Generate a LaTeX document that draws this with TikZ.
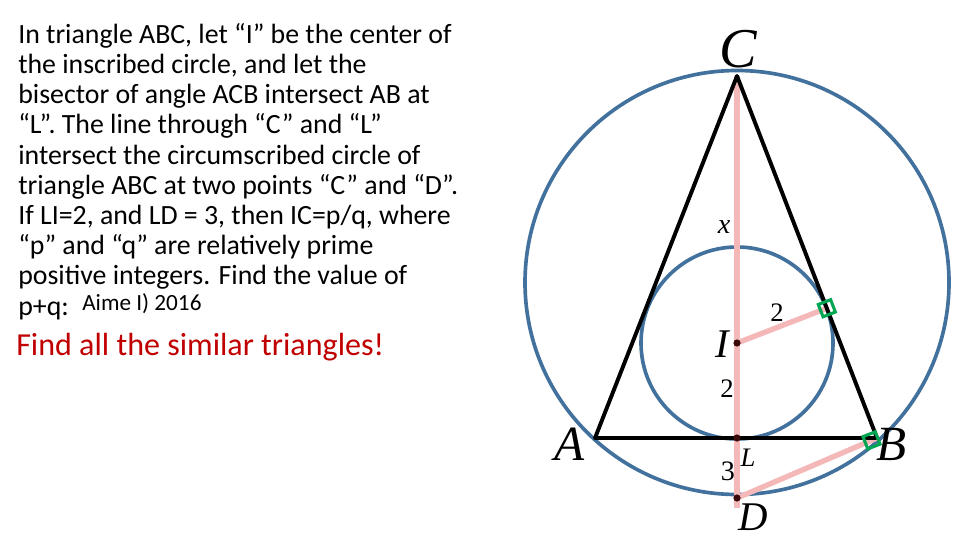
\documentclass[tikz,border=0pt]{standalone}
\usepackage{fontspec}
\setmainfont{Carlito}
\newfontfamily\geofont{Liberation Serif}
\usetikzlibrary{calc}
\definecolor{circblue}{HTML}{41719C}
\definecolor{segpink}{HTML}{F4B8B8}
\definecolor{markgreen}{HTML}{00A651}
\definecolor{hintred}{HTML}{C00000}
\definecolor{ptdark}{HTML}{3A0A0A}

\begin{document}
\begin{tikzpicture}[
	circ/.style={draw=circblue,line width=2.6pt},
	seg/.style={draw=segpink,line width=3.8pt},
	side/.style={draw=black,line width=2.8pt,line join=round},
	rmark/.style={draw=markgreen,line width=2.2pt,minimum size=0.33cm,inner sep=0pt,rotate=-68.8},
	pt/.style={circle,fill=ptdark,inner sep=0pt,minimum size=0.18cm},
	vlab/.style={font=\geofont\itshape\fontsize{#1}{#1}\selectfont,inner sep=0pt,anchor=base},
	nlab/.style={font=\geofont\fontsize{#1}{#1}\selectfont,inner sep=0pt,anchor=base}]
	\useasboundingbox (0,0) rectangle (24,13.5);
	
	\node[anchor=north west,inner sep=0pt,align=left,font=\fontsize{19.8}{21.5}\selectfont] (prob) at (0.45,12.93)
		{In triangle ABC, let “I” be the center of\\
		the inscribed circle, and let the\\
		bisector of angle ACB intersect AB at\\
		“L”.  The line through “C” and “L”\\
		intersect the circumscribed circle of\\
		triangle ABC at two points “C” and “D”.\\
		If LI=2, and LD = 3, then IC=p/q, where\\
		“p” and “q” are relatively prime\\
		positive integers.  Find the value of\\
		p+q:};
	\node[anchor=base west,inner sep=0pt,font=\fontsize{16.5}{16.5}\selectfont] (src) at (2.05,5.75) {Aime I) 2016};
	\node[anchor=base west,inner sep=0pt,text=hintred,font=\fontsize{22.8}{22.8}\selectfont] (hint) at (0.4,4.625) {Find all the similar triangles!};
	
	\coordinate (C) at (18.425,11.6);
	\coordinate (A) at (14.875,2.55);
	\coordinate (B) at (21.925,2.55);
	\coordinate (L) at (18.425,2.55);
	\coordinate (I) at (18.425,4.925);
	\coordinate (D) at (18.425,1.05);
	\coordinate (Dend) at (18.425,0.8);
	\coordinate (O) at (18.425,6.4375);
	\coordinate (T) at ($(C)!(I)!(B)$);
	
	\draw[circ] (O) circle (5.3);
	\draw[circ] (I) circle (2.4);
	
	\draw[seg] (C) -- (Dend);
	\draw[seg] (I) -- (T);
	\draw[seg] (D) -- (B);
	
	\draw[side] (A) -- (B) -- (C) -- cycle;
	
	\node[rmark] (rT) at (T) {};
	\node[rmark] (rB) at ($(B)!0.15cm!(D)$) {};
	
	\node[pt] (pI) at (I) {};
	\node[pt] (pL) at (L) {};
	\node[pt] (pD) at (D) {};
	
	\node[vlab=40] (labC) at (18.45,11.8) {C};
	\node[vlab=35] (labA) at (14.25,2.0) {A};
	\node[vlab=35] (labB) at (22.3,2.0) {B};
	\node[vlab=29] (labI) at (18.05,4.56) {I};
	\node[vlab=19] (labL) at (18.7,1.85) {L};
	\node[vlab=29] (labD) at (18.825,0.25) {D};
	\node[vlab=20] (labx) at (18.1,7.675) {x};
	\node[nlab=19] (labIT) at (19.425,5.46) {2};
	\node[nlab=19] (labLI) at (18.175,3.575) {2};
	\node[nlab=20] (labLD) at (18.2,1.5) {3};
\end{tikzpicture}
\end{document}
